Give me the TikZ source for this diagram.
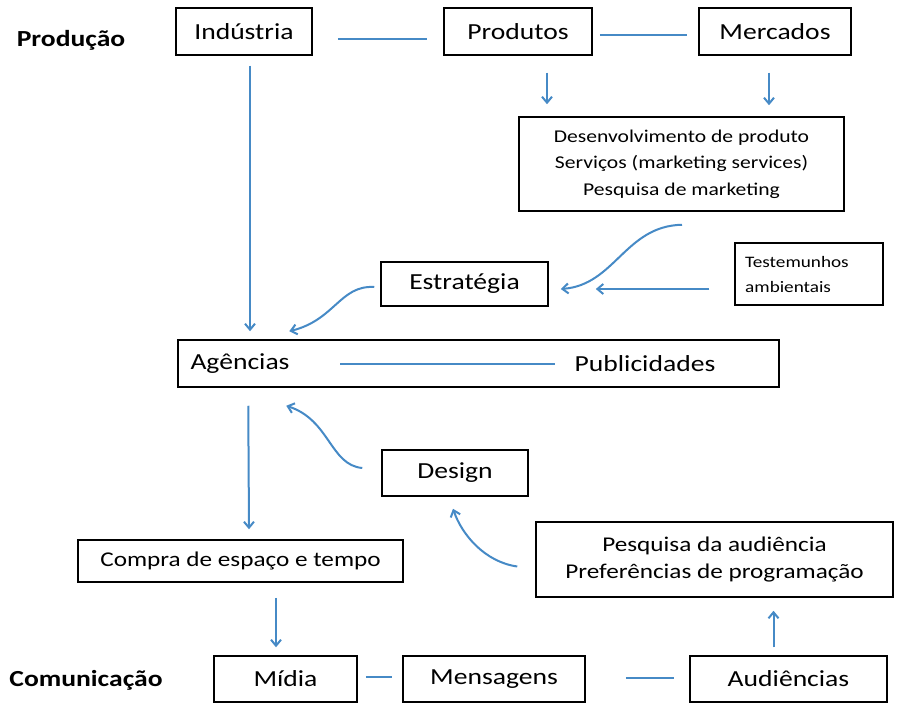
\documentclass[tikz,border=0pt]{standalone}
\usepackage{fontspec}
\setmainfont{Carlito}[FakeStretch=1.2]
\usetikzlibrary{arrows.meta}
\definecolor{lnk}{RGB}{70,138,198}
\begin{document}
\begin{tikzpicture}[x=1pt,y=-1pt,
  box/.style={draw=black, line width=1.5pt, inner sep=0pt, align=center, font=\fontsize{23}{28}\selectfont},
  txt/.style={inner sep=0pt, font=\fontsize{23}{28}\selectfont},
  lbl/.style={inner sep=0pt, font=\bfseries\fontsize{23}{28}\selectfont},
  link/.style={draw=lnk, line width=2pt},
  arr/.style={link, -{Straight Barb[length=6pt,width=10pt]}}]
\useasboundingbox (0,0) rectangle (901,703);

% row labels
\node[lbl] (lprod) at (71,40) {Produção};
\node[lbl] (lcom) at (86,680) {Comunicação};

% top row
\node[box, minimum width=136, minimum height=47] (ind) at (244,31.5) {Indústria};
\node[box, minimum width=148, minimum height=47] (prod) at (518,31.5) {Produtos};
\node[box, minimum width=152, minimum height=47] (merc) at (775,31.5) {Mercados};

\node[box, minimum width=325, minimum height=94, font=\fontsize{18}{26.5}\selectfont] (desv) at (681.5,164)
  {Desenvolvimento de produto\\Serviços (marketing services)\\Pesquisa de marketing};

\node[box, minimum width=148, minimum height=62] (test) at (809,274) {};
\node[inner sep=0pt, anchor=west, align=left, font=\fontsize{16}{25}\selectfont] (testt) at (745,275) {Testemunhos\\ambientais};

\node[box, minimum width=167, minimum height=44] (estr) at (464.5,284) {Estratégia};

\node[box, minimum width=601, minimum height=47] (agpub) at (478.5,363.5) {};
\node[txt, minimum width=200] (ag) at (240,363.5) {Agências};
\node[txt, minimum width=180] (pub) at (645,363.5) {Publicidades};

\node[box, minimum width=146, minimum height=46] (design) at (455,473) {Design};

\node[box, minimum width=325, minimum height=42, font=\fontsize{21}{27}\selectfont] (compra) at (240.5,561) {Compra de espaço e tempo};
\node[box, minimum width=357, minimum height=75, font=\fontsize{21}{27}\selectfont] (pesq) at (714.5,559.5)
  {Pesquisa da audiência\\Preferências de programação};

\node[box, minimum width=143, minimum height=46] (midia) at (285.5,679) {Mídia};
\node[box, minimum width=182, minimum height=46] (mens) at (494,679) {Mensagens};
\node[box, minimum width=197, minimum height=46] (aud) at (788.5,679) {Audiências};

% plain links
\draw[link] ([shift={(25,7.5)}]ind.east) -- ([shift={(-16,7.5)}]prod.west);
\draw[link] ([shift={(7,3.5)}]prod.east) -- ([shift={(-11,3.5)}]merc.west);
\draw[link] (ag) -- (pub);
\draw[link] ([shift={(8,-2)}]midia.east) -- ([shift={(-10,-2)}]mens.west);
\draw[link] ([shift={(40,-1)}]mens.east) -- ([shift={(-15,-1)}]aud.west);

% straight arrows
\draw[arr] ([shift={(6,10)}]ind.south) -- ([shift={(-228.5,-8)}]agpub.north);
\draw[arr] ([shift={(29,17)}]prod.south) -- ([shift={(-134.5,-12)}]desv.north);
\draw[arr] ([shift={(-6,17)}]merc.south) -- ([shift={(87.5,-11)}]desv.north);
\draw[arr] ([shift={(-25,15)}]test.west) -- ([shift={(47,5)}]estr.east);
\draw[arr] ([shift={(71,18)}]agpub.south west) -- ([shift={(8.5,-10)}]compra.north);
\draw[arr] ([shift={(35.5,15)}]compra.south) -- ([shift={(-9.5,-8)}]midia.north);
\draw[arr] ([shift={(-15,-8)}]aud.north) -- ([shift={(59,13)}]pesq.south);

% curved arrows
\draw[arr] ([shift={(0.5,13)}]desv.south) .. controls (625,226) and (615,285) .. ([shift={(12,5)}]estr.east);
\draw[arr] ([shift={(-6,3)}]estr.west) .. controls (340,285) and (335,320) .. ([shift={(112,-8)}]agpub.north west);
\draw[arr] ([shift={(-19,-5)}]design.west) .. controls (330,465) and (330,420) .. ([shift={(109,18)}]agpub.south west);
\draw[arr] ([shift={(-18,7)}]pesq.west) .. controls (485,562) and (462,535) .. ([shift={(-2,12)}]design.south);
\end{tikzpicture}
\end{document}
